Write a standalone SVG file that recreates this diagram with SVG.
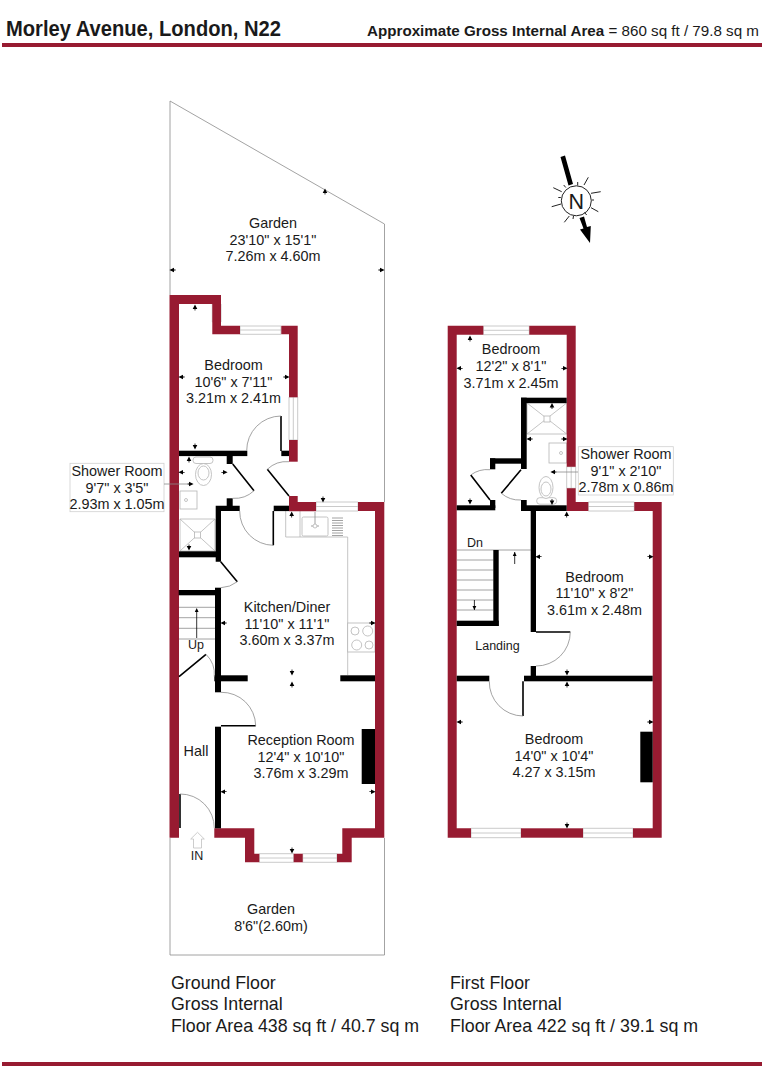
<svg xmlns="http://www.w3.org/2000/svg" xmlns:xlink="http://www.w3.org/1999/xlink" width="763" height="1080" viewBox="0 0 763 1080">
<style>
text{font-family:"Liberation Sans",Arial,sans-serif;fill:#1a1a1a}
.r{font-size:14.4px;text-anchor:middle}
.f{font-size:17.8px}
.red{fill:#971b31}
.blk{fill:#000}
.thin{fill:none;stroke:#8c8c8c;stroke-width:.8}
.leaf{fill:none;stroke:#000;stroke-width:1.6}
.fx{fill:#fff;stroke:#b5b5b5;stroke-width:.8}
.win{fill:#fff;stroke:#bdbdbd;stroke-width:.8}
.lbl{fill:#fff;stroke:#d0d0d0;stroke-width:.8}
</style>
<defs>
<path id="tu" d="M-2.3,4L0,-.6L2.3,4Z M-.4,4H.4V5.600H-.4Z" fill="#000"/>
<path id="td" d="M-2.3,-4L0,.6L2.3,-4Z M-.4,-4H.4V-5.600H-.4Z" fill="#000"/>
<path id="tl" d="M4,-2.3L-.6,0L4,2.3Z M4,-.4H5.600V.4H4Z" fill="#000"/>
<path id="tr" d="M-4,-2.3L.6,0L-4,2.3Z M-4,-.4H-5.600V.4H-4Z" fill="#000"/>
</defs>
<rect width="763" height="1080" fill="#fff"/>

<g id="header">
<text x="6" y="35.500" font-size="21.500" font-weight="700" textLength="275" lengthAdjust="spacingAndGlyphs">Morley Avenue, London, N22</text>
<text x="367" y="35.500" font-size="15.500" textLength="392" lengthAdjust="spacingAndGlyphs"><tspan font-weight="700">Approximate Gross Internal Area</tspan> = 860 sq ft / 79.8 sq m</text>
<rect class="red" x="2" y="43" width="760" height="4"/>
<rect class="red" x="2" y="1062" width="760" height="4"/>
</g>

<g id="garden-outline">
<path class="thin" d="M170,295V101L384.500,224V502M170,838V955H384.500V838"/>
</g>

<g id="ground-floor-fixtures">
<path class="fx" d="M180,519H215V551H180Z M180,519L215,551M215,519L180,551"/><rect class="fx" x="194.500" y="532" width="6" height="6"/>
<rect class="fx" x="180" y="491" width="17" height="18"/><circle class="fx" cx="186" cy="500" r="1.500"/>
<rect class="fx" x="193" y="457" width="20" height="6.500" rx="3"/><ellipse class="fx" cx="203.500" cy="474.500" rx="8" ry="11"/><ellipse class="fx" cx="203.500" cy="473" rx="5.500" ry="7"/>
<path class="fx" style="fill:none" d="M285.700,511V537H347.700V675M300,511V537"/>
<rect class="fx" x="302" y="517" width="26" height="19" rx="1.500"/><path class="thin" d="M315,512V526M311,526H319"/><circle class="fx" cx="315" cy="526" r="2"/>
<path class="thin" d="M332,518H343M332,520.500H343M332,523H343M332,525.500H343M332,528H343M332,530.500H343M332,533H343M332,535.500H343"/>
<rect class="fx" x="347.700" y="623" width="27.300" height="29"/>
<circle class="fx" cx="355" cy="631" r="4"/><circle class="fx" cx="367.700" cy="631" r="5"/><circle class="fx" cx="356.700" cy="645" r="5"/><circle class="fx" cx="369" cy="645" r="4"/>
<path class="thin" d="M179,607.300H215M179,617.700H215M179,628.300H215M179,639H215"/>
<path d="M196.700,638V610" stroke="#000" stroke-width=".8"/><path d="M194.800,612L196.700,608L198.600,612Z" fill="#000"/>
<path d="M193.500,848V839H190.700L197.500,832.300L204.300,839H201.500V848Z" fill="#fff" stroke="#c0c0c0" stroke-width=".8"/>
</g>

<g id="ground-floor-windows">
<path class="win" d="M212.300,304H221V322H212.300Z M216.700,304V322"/>
<path class="win" d="M240,326H281V334.300H240Z M240,330H281"/>
<path class="win" d="M289,397H297.700V440H289Z M293.300,397V440"/>
<path class="win" d="M316,502H358V511H316Z M316,506.500H358"/>
<path class="win" d="M259.300,853.700H293.700V862.300H259.300Z M259.300,858H293.700"/>
<path class="win" d="M302.700,853.700H337V862.300H302.700Z M302.700,858H337"/>
</g>

<g id="ground-floor-walls">
<path class="red" d="M169.500,295H221V322H212.300V304H179V837.700H169.500Z"/>
<path class="red" d="M212.300,322H221V325.700H240V334.300H212.300Z"/>
<path class="red" d="M281.300,325.700H297.700V397.300H289V334.300H281.300Z"/>
<rect class="red" x="289" y="440" width="8.700" height="21.700"/>
<path class="red" d="M289,496H297.700V502H316V511.300H289Z"/>
<path class="red" d="M358,502H384.300V837.700H351.700V862.300H337V853.700H342.300V828.300H375V511H358Z"/>
<path class="red" d="M214.300,828.300H254.300V853.700H259.300V862.300H245V837.700H214.300Z"/>
<rect class="red" x="293.700" y="853.700" width="9" height="8.600"/>
<g class="blk">
<rect x="281.300" y="450.700" width="7.700" height="5.400"/>
<rect x="179" y="450.700" width="68.300" height="5.400"/>
<rect x="226.700" y="456" width="6" height="8"/>
<rect x="226.700" y="498.300" width="6" height="8"/>
<path d="M215.700,505.700H239.700V511H221V561.700H215.700Z"/>
<rect x="179" y="551.300" width="37" height="6"/>
<rect x="273.700" y="505.700" width="15.300" height="5.400"/>
<rect x="178.700" y="590" width="37" height="5.300"/>
<rect x="215" y="587.700" width="6" height="104.600"/>
<rect x="214.300" y="675.300" width="33.400" height="6"/>
<rect x="340.300" y="675.300" width="34.700" height="6"/>
<rect x="215" y="726.700" width="6" height="101.600"/>
<rect x="361.700" y="729" width="13.300" height="55"/>
</g>
</g>

<g id="ground-floor-doors">
<path class="leaf" d="M281,451V416M232.700,464L254,490.700M267.300,469.300L289,496M273.300,511V545.300M220.700,561.700L237.300,581.700M179,676.700L206,654.300M221,725.700H255.700M180,828V794"/>
<path class="thin" d="M281,416A34.500,34.500 0 0 0 246.700,450.700M254,490.700A28,28 0 0 1 232.700,498.300M267.300,469.300A28,28 0 0 1 289,461.700M273.300,545.300A34,34 0 0 1 239.700,511M237.300,581.700A28,28 0 0 1 221,587.700M206,654.300A28,28 0 0 1 214.300,676.700M221,692.300A34,34 0 0 1 255.700,725.700M180,794A34,34 0 0 1 214.300,828.300"/>
</g>

<g id="first-floor-fixtures">
<path class="fx" d="M527,403H566.700V434H527Z M527,403L566.700,434M566.700,403L527,434"/><rect class="fx" x="544" y="416" width="6" height="6"/>
<rect class="fx" x="549" y="443" width="17.700" height="20"/><circle class="fx" cx="561" cy="453" r="1.500"/>
<rect class="fx" x="536.700" y="497.700" width="20" height="6.500" rx="3"/><ellipse class="fx" cx="546" cy="487.500" rx="7" ry="11"/><ellipse class="fx" cx="546" cy="489" rx="5" ry="7"/>
<path class="thin" d="M457,550H530.700M457,560H493.300M457,570H493.300M457,580H493.300M457,590H493.300M457,600H493.300M457,610H493.300"/>
<path d="M514.700,552V564" stroke="#000" stroke-width=".8"/><path d="M512.800,556L514.700,552L516.600,556Z" fill="#000"/>
<path d="M474.400,600V610" stroke="#000" stroke-width=".8"/><path d="M472.500,606L474.400,610L476.300,606Z" fill="#000"/>
</g>

<g id="first-floor-windows">
<path class="win" d="M483.300,326H529.300V334.700H483.300Z M483.300,330.300H529.300"/>
<path class="win" d="M566.700,466.700H575.700V488.300H566.700Z M571.200,466.700V488.300"/>
<path class="win" d="M588.300,502H634.300V511H588.300Z M588.300,506.500H634.300"/>
<path class="win" d="M471,828.300H521V837.700H471Z M471,833H521"/>
<path class="win" d="M583,828.300H633V837.700H583Z M583,833H633"/>
</g>

<g id="first-floor-walls">
<path class="red" d="M447.700,325.700H483.300V334.700H456.700V828.300H471V837.700H447.700Z"/>
<path class="red" d="M529.300,325.700H575.700V466.700H566.700V334.700H529.300Z"/>
<path class="red" d="M566.700,488.300H575.700V502H588.300V511H566.700Z"/>
<path class="red" d="M634.300,502H661.700V837.700H633V828.300H652.700V511H634.300Z"/>
<rect class="red" x="521" y="828.300" width="62" height="9.400"/>
<g class="blk">
<rect x="521" y="397.700" width="45.700" height="5.400"/>
<rect x="521" y="397.700" width="5.700" height="71.300"/>
<rect x="490" y="458.300" width="31" height="5.400"/>
<rect x="490" y="458.300" width="5.300" height="11"/>
<rect x="521" y="500" width="5.700" height="11"/>
<rect x="521" y="505.300" width="45.700" height="5.700"/>
<rect x="456.700" y="505.300" width="38.600" height="5"/>
<rect x="490" y="500" width="5.300" height="8"/>
<rect x="530.700" y="511" width="5.300" height="121"/>
<rect x="530.700" y="666" width="5.300" height="10"/>
<rect x="524" y="675.700" width="128.700" height="5.600"/>
<rect x="456.700" y="675.700" width="32.600" height="5.600"/>
<rect x="493.300" y="550" width="5.400" height="76"/>
<rect x="456.700" y="620.700" width="42" height="5.300"/>
<rect x="640.300" y="731.700" width="12.400" height="50.600"/>
</g>
</g>

<g id="first-floor-doors">
<path class="leaf" d="M490,500L470.700,475M521,469.700L501.300,493.300M536,632H570.300M523,681.300V716"/>
<path class="thin" d="M470.700,475A28,28 0 0 1 490,469.700M501.300,493.300A28,28 0 0 0 521,500M570.300,632A34,34 0 0 1 536,666M523,716A34,34 0 0 1 489.300,681.300"/>
</g>

<g id="dimension-ticks">
<use xlink:href="#tu" x="325" y="189"/><use xlink:href="#tl" x="170" y="270"/><use xlink:href="#tr" x="384" y="270"/>
<use xlink:href="#tu" x="195" y="305"/><use xlink:href="#td" x="195" y="449"/><use xlink:href="#tl" x="179" y="377"/><use xlink:href="#tr" x="289" y="377"/>
<use xlink:href="#tu" x="189" y="457"/><use xlink:href="#td" x="189" y="550"/><use xlink:href="#tl" x="179" y="472.300"/><use xlink:href="#tr" x="227" y="472.300"/>
<use xlink:href="#td" x="323" y="502"/><use xlink:href="#tu" x="291.700" y="512"/><use xlink:href="#tl" x="221" y="623"/><use xlink:href="#tr" x="375" y="623"/>
<use xlink:href="#td" x="292" y="675"/><use xlink:href="#tu" x="292" y="682"/><use xlink:href="#tl" x="221" y="791.700"/><use xlink:href="#tr" x="375" y="791.700"/><use xlink:href="#td" x="292" y="853"/>
<use xlink:href="#tu" x="470" y="336"/><use xlink:href="#td" x="470" y="504"/><use xlink:href="#tl" x="457" y="368.300"/><use xlink:href="#tr" x="567" y="368.300"/>
<use xlink:href="#tu" x="552" y="403.500"/><use xlink:href="#td" x="552" y="504.500"/><use xlink:href="#tl" x="527" y="439"/><use xlink:href="#tr" x="567" y="439"/>
<use xlink:href="#tu" x="566.700" y="512"/><use xlink:href="#td" x="567" y="675"/><use xlink:href="#tl" x="536" y="556.700"/><use xlink:href="#tr" x="653" y="556.700"/>
<use xlink:href="#tu" x="567" y="682"/><use xlink:href="#td" x="567" y="828"/><use xlink:href="#tl" x="457" y="722"/><use xlink:href="#tr" x="653" y="722"/>
</g>

<g id="north">
<path d="M560.500,157L565,155.500L573,184L568.500,185.500Z M579.500,218L584,216.500L587,227L590.800,226L590,243L580,229.500L583.500,228.500Z" fill="#000"/>
<circle cx="576.300" cy="200.800" r="15" fill="#fff" stroke="#222" stroke-width="1"/>
<g stroke="#222" stroke-width="1">
<path d="M584,185L588.300,177.300M591,193.300L600.700,191.700M591,207.700L598.300,211.700M569.300,216L564.300,222.300M561,204L551.700,206.700M561.700,191.700L553.300,187.700"/>
<path d="M577.700,185.500V182M563.700,185L565.800,187.500M584.500,212.500L586.700,215M573.500,216L573,219M560.800,197.500H558.300M591.800,200H594"/>
</g>
<text x="576.300" y="208.500" font-size="21.500" text-anchor="middle">N</text>
</g>

<g id="labels">
<rect class="lbl" x="70" y="463.300" width="94" height="48.400"/>
<rect class="lbl" x="578.300" y="446.700" width="95" height="48.300"/>
<path class="thin" d="M164,484H187M578,472H557"/>
<use xlink:href="#tr" x="193" y="484"/><use xlink:href="#tl" x="551" y="472"/>
<text class="r"><tspan x="117" y="476">Shower Room</tspan><tspan x="117" y="492.500">9'7" x 3'5"</tspan><tspan x="117" y="509">2.93m x 1.05m</tspan></text>
<text class="r"><tspan x="626" y="459">Shower Room</tspan><tspan x="626" y="475.500">9'1" x 2'10"</tspan><tspan x="626" y="492">2.78m x 0.86m</tspan></text>
<text class="r"><tspan x="273" y="228">Garden</tspan><tspan x="273" y="244.500">23'10" x 15'1"</tspan><tspan x="273" y="261">7.26m x 4.60m</tspan></text>
<text class="r"><tspan x="233.500" y="370">Bedroom</tspan><tspan x="233.500" y="386.500">10'6" x 7'11"</tspan><tspan x="233.500" y="403">3.21m x 2.41m</tspan></text>
<text class="r"><tspan x="287" y="612">Kitchen/Diner</tspan><tspan x="287" y="628.500">11'10" x 11'1"</tspan><tspan x="287" y="645">3.60m x 3.37m</tspan></text>
<text class="r"><tspan x="301" y="745">Reception Room</tspan><tspan x="301" y="761.500">12'4" x 10'10"</tspan><tspan x="301" y="778">3.76m x 3.29m</tspan></text>
<text class="r" x="196" y="756">Hall</text>
<text class="r" x="196" y="649" style="font-size:12.500px">Up</text>
<text class="r" x="197" y="860" style="font-size:12.500px">IN</text>
<text class="r"><tspan x="271" y="914">Garden</tspan><tspan x="271" y="931">8'6"(2.60m)</tspan></text>
<text class="r"><tspan x="511" y="354">Bedroom</tspan><tspan x="511" y="371">12'2" x 8'1"</tspan><tspan x="511" y="387.500">3.71m x 2.45m</tspan></text>
<text class="r"><tspan x="594.500" y="582">Bedroom</tspan><tspan x="594.500" y="598">11'10" x 8'2"</tspan><tspan x="594.500" y="615">3.61m x 2.48m</tspan></text>
<text class="r"><tspan x="554" y="744">Bedroom</tspan><tspan x="554" y="760.500">14'0" x 10'4"</tspan><tspan x="554" y="777">4.27 x 3.15m</tspan></text>
<text class="r" x="497.500" y="650" style="font-size:12.500px">Landing</text>
<text class="r" x="475" y="547" style="font-size:12.500px">Dn</text>
<text class="f"><tspan x="171" y="988.500">Ground Floor</tspan><tspan x="171" y="1010">Gross Internal</tspan><tspan x="171" y="1031.500">Floor Area 438 sq ft / 40.7 sq m</tspan></text>
<text class="f"><tspan x="450" y="988.500">First Floor</tspan><tspan x="450" y="1010">Gross Internal</tspan><tspan x="450" y="1031.500">Floor Area 422 sq ft / 39.1 sq m</tspan></text>
</g>
</svg>
